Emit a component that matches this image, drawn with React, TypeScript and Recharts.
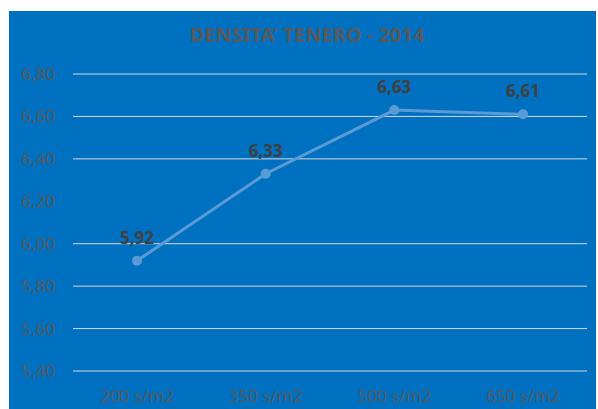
import { LineChart, Line, XAxis, YAxis, ReferenceLine, LabelList } from "recharts";

const categories = ["200 s/m2", "350 s/m2", "500 s/m2", "650 s/m2"];
const density = [5.92, 6.33, 6.63, 6.61];
const yTicks = [5.4, 5.6, 5.8, 6.0, 6.2, 6.4, 6.6, 6.8];
// the reference shows no gridline at 6,20
const gridValues = [5.4, 5.6, 5.8, 6.0, 6.4, 6.6, 6.8];

const data = categories.map((name, i) => ({ name, value: density[i] }));

const FONT = "'Noto Sans', 'Open Sans', sans-serif";
const fmt = (v: number) => v.toFixed(2).replace(".", ",");

export default function App() {
  return (
    <div
      style={{
        position: "fixed",
        left: 9,
        top: 11,
        width: 586,
        height: 398,
        background: "#0070C0",
        borderRight: "1px solid #0b5f9e",
        fontFamily: FONT,
      }}
    >
      <div
        style={{
          position: "absolute",
          left: 0,
          width: 596,
          top: 9,
          textAlign: "center",
          fontSize: 20,
          fontWeight: 700,
          color: "#595959",
          lineHeight: "30px",
        }}
      >
        DENSITA’ TENERO - 2014
      </div>
      <LineChart width={586} height={398} data={data} margin={{ top: 63, right: 8, bottom: 0, left: 0 }}>
        {gridValues.map((v) => (
          <ReferenceLine key={v} y={v} stroke="#d9d9d9" strokeWidth={1} />
        ))}
        <XAxis
          dataKey="name"
          axisLine={false}
          tickLine={false}
          tickSize={0}
          tickMargin={19}
          height={38}
          padding={{ left: 64, right: 64 }}
          tick={{ fill: "#595959", fontSize: 17, fontFamily: FONT }}
        />
        <YAxis
          domain={[5.4, 6.8]}
          ticks={yTicks}
          interval={0}
          axisLine={false}
          tickLine={false}
          tickSize={0}
          tickMargin={18}
          width={64}
          tickFormatter={fmt}
          tick={{ fill: "#595959", fontSize: 17, fontFamily: FONT }}
        />
        <Line
          type="linear"
          dataKey="value"
          stroke="#5B9BD5"
          strokeWidth={3}
          dot={{ r: 5, fill: "#5B9BD5", stroke: "#5B9BD5", strokeWidth: 0 }}
          isAnimationActive={false}
        >
          <LabelList
            dataKey="value"
            position="top"
            offset={17}
            formatter={(v: any) => fmt(Number(v))}
            style={{ fill: "#404040", fontSize: 17, fontWeight: 700, fontFamily: FONT }}
          />
        </Line>
      </LineChart>
    </div>
  );
}
